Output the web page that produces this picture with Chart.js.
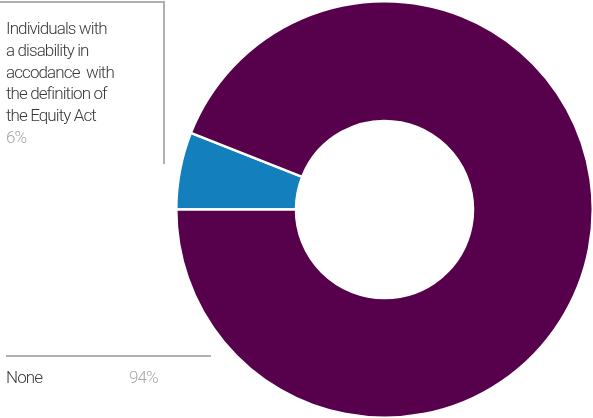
<!DOCTYPE html>
<html><head><meta charset="utf-8">
<script src="https://cdn.jsdelivr.net/npm/chart.js@4/dist/chart.umd.min.js"></script>
<style>
html,body{margin:0;padding:0;background:#fff;}
#wrap{position:relative;width:593px;height:418px;overflow:hidden;}
canvas{position:absolute;left:0;top:0;}
.lbl{position:absolute;font-family:Roboto,"Liberation Sans",sans-serif;font-weight:300;font-size:17px;line-height:21.8px;color:#3a3a3a;letter-spacing:-0.9px;}
.pct{color:#a8a8a8;}
.ln{position:absolute;background:#b0b0b0;}
</style></head>
<body><div id="wrap">
<canvas id="c" width="594" height="419"></canvas>
<div class="ln" style="left:0;top:1px;width:165px;height:2px;"></div>
<div class="ln" style="left:163px;top:1px;width:2px;height:163px;"></div>
<div class="ln" style="left:6px;top:355px;width:205px;height:2px;"></div>
<div class="lbl" id="l1" style="left:6px;top:18px;"></div>
<div class="lbl" id="l2" style="left:6px;top:367px;"></div>
<div class="lbl pct" id="p2" style="left:129px;top:367px;"></div>
</div>
<script>
const categories = ["Individuals with a disability in accodance  with the definition of the Equity Act", "None"];
const labelLines = ["Individuals with", "a disability in", "accodance&nbsp; with", "the definition of", "the Equity Act"];
const values = [6, 94];
const colors = ["#1380BD", "#57004B"];

document.getElementById('l1').innerHTML = labelLines.join('<br>') + '<br><span class="pct">' + values[0] + '%</span>';
document.getElementById('l2').textContent = categories[1];
document.getElementById('p2').textContent = values[1] + '%';

new Chart(document.getElementById('c'), {
  type: 'doughnut',
  data: { labels: categories, datasets: [{ data: values, backgroundColor: colors, borderColor: '#ffffff', borderWidth: 2.5 }] },
  options: {
    responsive: false, animation: false,
    rotation: -90,
    cutout: '42.5%',
    layout: { padding: { left: 175, right: 0, top: 0, bottom: 0 } },
    plugins: { legend: { display: false }, tooltip: { enabled: false } }
  }
});
</script>
</body></html>
